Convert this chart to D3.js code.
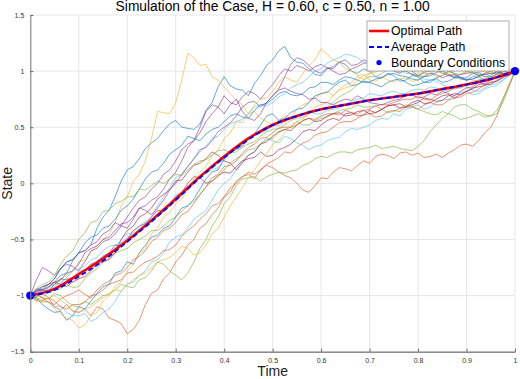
<!DOCTYPE html>
<html>
<head>
<meta charset="utf-8">
<script src="https://cdn.jsdelivr.net/npm/d3@7"></script>
<style>
  body { margin: 0; background: #fff; }
  svg { display: block; font-family: "Liberation Sans", Arial, sans-serif; }
</style>
</head>
<body>
<svg id="chart"></svg>
<script>
const width = 520;
const height = 379;

const titleText = "Simulation of the Case, H = 0.60, c = 0.50, n = 1.00";
const xTicks = [0, 0.1, 0.2, 0.3, 0.4, 0.5, 0.6, 0.7, 0.8, 0.9, 1];
const yTicks = [-1.5, -1, -0.5, 0, 0.5, 1, 1.5];
const lineColors = ["#0072BD", "#D95319", "#EDB120", "#7E2F8E", "#77AC30", "#4DBEEE", "#A2142F"];

// simulated paths (81 samples each, time step 1/80)
const simPaths = [
  [-1, -0.94, -0.95, -0.93, -0.88, -0.82, -0.80, -0.69, -0.62, -0.60, -0.55, -0.40, -0.30, -0.24, -0.12, 0.02, 0.12, 0.15, 0.22, 0.31, 0.36, 0.40, 0.47, 0.53, 0.56, 0.50, 0.49, 0.48, 0.53, 0.65, 0.72, 0.86, 0.95, 0.87, 0.84, 0.83, 0.78, 0.89, 0.96, 1.05, 1.10, 1.18, 1.22, 1.12, 1.08, 1.07, 1.02, 0.97, 0.96, 1.02, 1.04, 1.08, 1.06, 1.00, 0.98, 1.02, 1.00, 0.95, 0.94, 0.98, 0.96, 0.91, 0.92, 0.96, 0.95, 0.90, 0.90, 0.94, 0.96, 1.00, 0.98, 0.94, 0.94, 0.98, 0.99, 0.95, 0.96, 1.00, 0.98, 0.97, 1],
  [-1, -1.05, -1.04, -1.02, -1.10, -1.13, -1.08, -1.14, -1.15, -1.12, -1.18, -1.10, -1.12, -1.20, -1.22, -1.25, -1.34, -1.30, -1.22, -1.08, -0.98, -0.95, -0.85, -0.80, -0.70, -0.64, -0.55, -0.50, -0.40, -0.36, -0.28, -0.22, -0.12, -0.08, 0.02, 0.06, 0.08, 0.04, 0.12, 0.16, 0.14, 0.10, 0.07, 0.05, 0.00, -0.06, -0.08, -0.02, 0.05, 0.04, 0.10, 0.14, 0.13, 0.11, 0.16, 0.20, 0.18, 0.24, 0.26, 0.25, 0.22, 0.27, 0.28, 0.25, 0.27, 0.23, 0.24, 0.26, 0.23, 0.27, 0.30, 0.34, 0.35, 0.33, 0.38, 0.45, 0.50, 0.60, 0.75, 0.88, 1],
  [-1, -1.02, -0.98, -0.92, -0.90, -0.86, -0.82, -0.78, -0.70, -0.68, -0.62, -0.55, -0.50, -0.45, -0.35, -0.20, -0.12, 0.02, 0.08, 0.20, 0.40, 0.64, 0.63, 0.62, 0.72, 0.92, 1.16, 1.12, 1.05, 1.06, 0.95, 0.92, 0.86, 0.80, 0.74, 0.70, 0.62, 0.64, 0.58, 0.55, 0.52, 0.56, 0.60, 0.58, 0.66, 0.70, 0.72, 0.76, 0.80, 0.82, 0.78, 0.84, 0.88, 0.90, 0.95, 0.93, 0.98, 1.01, 1.02, 1.06, 1.05, 1.03, 1.00, 1.02, 0.98, 1.00, 1.03, 1.04, 1.00, 0.98, 0.96, 0.97, 0.99, 1.03, 1.02, 1.00, 0.98, 0.97, 1.01, 1.02, 1],
  [-1, -0.95, -0.92, -0.90, -0.85, -0.76, -0.72, -0.74, -0.78, -0.70, -0.60, -0.58, -0.52, -0.50, -0.45, -0.38, -0.40, -0.32, -0.22, -0.20, -0.15, -0.12, -0.05, 0.04, 0.10, 0.20, 0.32, 0.38, 0.50, 0.64, 0.70, 0.68, 0.62, 0.70, 0.75, 0.64, 0.58, 0.56, 0.62, 0.72, 0.78, 0.84, 0.95, 1.06, 1.12, 1.10, 1.05, 1.00, 0.98, 1.03, 1.02, 1.08, 1.10, 1.05, 1.06, 1.10, 1.08, 1.06, 1.04, 1.05, 1.00, 0.98, 1.02, 1.00, 0.96, 0.95, 0.98, 0.97, 0.94, 0.96, 0.97, 0.93, 0.92, 0.93, 0.95, 0.97, 0.98, 0.99, 0.97, 0.96, 1],
  [-1, -0.98, -1.02, -1.03, -0.98, -1.00, -1.05, -1.09, -1.10, -1.05, -1.08, -1.04, -1.00, -0.99, -0.95, -0.90, -0.92, -0.93, -0.86, -0.84, -0.78, -0.70, -0.72, -0.78, -0.82, -0.86, -0.80, -0.70, -0.58, -0.50, -0.38, -0.30, -0.18, -0.12, -0.02, 0.04, 0.05, 0.06, 0.02, 0.06, 0.08, 0.10, 0.09, 0.11, 0.12, 0.16, 0.18, 0.22, 0.24, 0.23, 0.26, 0.28, 0.28, 0.27, 0.30, 0.31, 0.32, 0.34, 0.31, 0.32, 0.33, 0.31, 0.30, 0.29, 0.33, 0.38, 0.46, 0.52, 0.58, 0.62, 0.68, 0.70, 0.70, 0.66, 0.64, 0.61, 0.60, 0.62, 0.72, 0.86, 1],
  [-1, -1.03, -1.05, -1.06, -1.10, -1.09, -1.15, -1.18, -1.18, -1.16, -1.23, -1.20, -1.15, -1.12, -1.05, -0.96, -0.90, -0.88, -0.82, -0.78, -0.70, -0.68, -0.62, -0.52, -0.48, -0.46, -0.40, -0.32, -0.28, -0.24, -0.15, -0.06, 0.00, 0.04, 0.12, 0.20, 0.25, 0.28, 0.35, 0.40, 0.38, 0.36, 0.42, 0.40, 0.36, 0.34, 0.30, 0.33, 0.34, 0.38, 0.40, 0.41, 0.46, 0.49, 0.48, 0.50, 0.52, 0.56, 0.58, 0.57, 0.62, 0.60, 0.66, 0.68, 0.70, 0.66, 0.68, 0.72, 0.74, 0.75, 0.78, 0.81, 0.82, 0.79, 0.80, 0.84, 0.86, 0.87, 0.92, 0.97, 1],
  [-1, -0.99, -0.95, -0.96, -0.90, -0.85, -0.86, -0.84, -0.80, -0.78, -0.72, -0.70, -0.65, -0.62, -0.55, -0.56, -0.50, -0.42, -0.38, -0.36, -0.30, -0.24, -0.25, -0.20, -0.12, -0.08, 0.00, 0.06, 0.05, 0.00, 0.02, 0.07, 0.10, 0.09, 0.15, 0.20, 0.22, 0.23, 0.28, 0.24, 0.25, 0.30, 0.32, 0.35, 0.40, 0.46, 0.48, 0.47, 0.52, 0.56, 0.58, 0.56, 0.62, 0.63, 0.60, 0.61, 0.65, 0.63, 0.66, 0.69, 0.70, 0.71, 0.68, 0.70, 0.72, 0.76, 0.75, 0.73, 0.74, 0.78, 0.80, 0.79, 0.82, 0.85, 0.86, 0.87, 0.90, 0.91, 0.94, 0.98, 1],
  [-1, -1.02, -1.08, -1.12, -1.15, -1.14, -1.22, -1.18, -1.10, -1.12, -1.05, -0.98, -0.92, -0.90, -0.80, -0.78, -0.70, -0.72, -0.62, -0.55, -0.48, -0.46, -0.40, -0.38, -0.30, -0.22, -0.20, -0.14, -0.05, 0.04, 0.10, 0.12, 0.22, 0.28, 0.30, 0.33, 0.40, 0.44, 0.52, 0.60, 0.62, 0.56, 0.58, 0.63, 0.66, 0.67, 0.72, 0.78, 0.80, 0.81, 0.86, 0.90, 0.92, 0.87, 0.88, 0.91, 0.90, 0.88, 0.86, 0.90, 0.92, 0.93, 0.90, 0.87, 0.88, 0.90, 0.92, 0.93, 0.90, 0.91, 0.94, 0.95, 0.92, 0.93, 0.95, 0.92, 0.93, 0.95, 0.97, 0.98, 1],
  [-1, -1.01, -0.98, -1.02, -1.05, -1.10, -1.12, -1.08, -1.08, -1.06, -1.00, -0.99, -0.95, -0.90, -0.88, -0.86, -0.80, -0.79, -0.74, -0.70, -0.68, -0.65, -0.60, -0.59, -0.55, -0.47, -0.42, -0.38, -0.32, -0.27, -0.20, -0.18, -0.12, -0.04, 0.00, 0.06, 0.10, 0.08, 0.12, 0.17, 0.20, 0.23, 0.28, 0.27, 0.32, 0.36, 0.38, 0.43, 0.45, 0.46, 0.50, 0.54, 0.55, 0.55, 0.58, 0.61, 0.62, 0.59, 0.60, 0.64, 0.65, 0.64, 0.68, 0.68, 0.66, 0.70, 0.72, 0.70, 0.70, 0.74, 0.76, 0.77, 0.80, 0.81, 0.84, 0.88, 0.90, 0.91, 0.95, 0.97, 1],
  [-1, -1.04, -1.06, -1.05, -1.12, -1.16, -1.20, -1.22, -1.29, -1.26, -1.18, -1.15, -1.05, -1.00, -0.92, -0.88, -0.78, -0.72, -0.62, -0.58, -0.45, -0.40, -0.30, -0.26, -0.18, -0.14, -0.05, 0.04, 0.10, 0.15, 0.25, 0.30, 0.40, 0.45, 0.55, 0.54, 0.62, 0.70, 0.75, 0.76, 0.82, 0.90, 0.95, 0.92, 0.90, 0.98, 1.05, 1.10, 1.20, 1.15, 1.10, 1.08, 1.02, 1.00, 0.96, 0.97, 0.92, 0.91, 0.95, 0.92, 0.90, 0.93, 0.94, 0.91, 0.92, 0.96, 0.98, 0.95, 0.96, 1.00, 1.02, 1.01, 1.00, 0.97, 0.98, 1.01, 1.03, 1.00, 1.01, 1.02, 1],
  [-1, -0.86, -0.75, -0.78, -0.82, -0.76, -0.70, -0.68, -0.62, -0.60, -0.55, -0.52, -0.45, -0.42, -0.35, -0.38, -0.30, -0.22, -0.15, -0.12, -0.05, 0.00, 0.08, 0.12, 0.20, 0.30, 0.35, 0.38, 0.45, 0.55, 0.62, 0.68, 0.78, 0.72, 0.70, 0.77, 0.82, 0.80, 0.75, 0.82, 0.88, 0.96, 1.02, 1.00, 1.05, 1.03, 1.00, 1.04, 1.06, 1.03, 1.00, 0.97, 0.98, 1.02, 1.04, 1.07, 1.08, 1.04, 1.02, 1.04, 1.05, 1.02, 1.00, 0.97, 0.96, 0.99, 1.00, 1.01, 0.98, 0.96, 0.95, 0.97, 0.98, 0.99, 0.96, 0.98, 1.00, 1.01, 0.98, 0.99, 1],
  [-1, -1.03, -1.02, -0.97, -0.95, -0.94, -0.90, -0.93, -0.92, -0.85, -0.80, -0.76, -0.70, -0.67, -0.62, -0.60, -0.58, -0.53, -0.50, -0.47, -0.42, -0.42, -0.38, -0.33, -0.30, -0.25, -0.20, -0.16, -0.10, -0.03, 0.02, 0.06, 0.12, 0.18, 0.22, 0.25, 0.30, 0.31, 0.35, 0.39, 0.40, 0.45, 0.48, 0.50, 0.55, 0.52, 0.52, 0.56, 0.58, 0.59, 0.62, 0.65, 0.66, 0.67, 0.70, 0.68, 0.68, 0.69, 0.66, 0.63, 0.64, 0.67, 0.70, 0.69, 0.66, 0.64, 0.62, 0.61, 0.64, 0.62, 0.60, 0.57, 0.58, 0.60, 0.62, 0.59, 0.60, 0.65, 0.75, 0.86, 1],
  [-1, -0.97, -0.96, -0.95, -0.92, -0.88, -0.85, -0.84, -0.78, -0.77, -0.74, -0.69, -0.65, -0.63, -0.58, -0.50, -0.45, -0.44, -0.38, -0.34, -0.30, -0.20, -0.12, -0.04, 0.05, 0.08, 0.15, 0.22, 0.28, 0.33, 0.40, 0.42, 0.48, 0.53, 0.55, 0.57, 0.62, 0.68, 0.70, 0.69, 0.72, 0.77, 0.80, 0.85, 0.88, 0.90, 0.95, 1.00, 1.02, 1.07, 1.10, 1.12, 1.15, 1.14, 1.12, 1.08, 1.06, 1.05, 1.02, 1.04, 1.05, 1.01, 0.98, 0.98, 0.96, 0.93, 0.92, 0.91, 0.88, 0.85, 0.84, 0.86, 0.86, 0.83, 0.82, 0.85, 0.88, 0.89, 0.92, 0.96, 1],
  [-1, -0.96, -0.94, -0.90, -0.88, -0.90, -0.92, -0.88, -0.85, -0.83, -0.78, -0.72, -0.70, -0.68, -0.62, -0.50, -0.42, -0.38, -0.30, -0.27, -0.22, -0.14, -0.10, -0.06, 0.02, 0.03, 0.10, 0.16, 0.18, 0.22, 0.28, 0.25, 0.20, 0.18, 0.12, 0.18, 0.25, 0.28, 0.35, 0.37, 0.42, 0.46, 0.48, 0.47, 0.52, 0.56, 0.58, 0.55, 0.56, 0.60, 0.62, 0.63, 0.60, 0.61, 0.64, 0.65, 0.62, 0.63, 0.66, 0.69, 0.70, 0.67, 0.68, 0.72, 0.74, 0.71, 0.72, 0.75, 0.78, 0.79, 0.76, 0.79, 0.82, 0.84, 0.88, 0.89, 0.92, 0.95, 0.96, 0.97, 1],
  [-1, -0.97, -0.92, -0.90, -0.85, -0.76, -0.70, -0.68, -0.62, -0.53, -0.48, -0.46, -0.40, -0.38, -0.32, -0.24, -0.20, -0.14, -0.05, 0.04, 0.10, 0.12, 0.18, 0.26, 0.30, 0.34, 0.42, 0.40, 0.38, 0.44, 0.48, 0.50, 0.55, 0.60, 0.62, 0.59, 0.58, 0.65, 0.70, 0.71, 0.75, 0.80, 0.82, 0.79, 0.78, 0.80, 0.85, 0.86, 0.90, 0.90, 0.88, 0.92, 0.95, 0.94, 0.92, 0.90, 0.90, 0.93, 0.94, 0.97, 0.98, 0.96, 0.95, 0.93, 0.92, 0.95, 0.96, 0.99, 1.00, 0.97, 0.94, 0.94, 0.92, 0.95, 0.96, 0.97, 0.98, 0.98, 1.00, 0.99, 1],
  [-1, -0.99, -1.02, -1.06, -1.08, -1.03, -1.00, -0.98, -0.95, -0.99, -1.02, -0.95, -0.90, -0.87, -0.82, -0.80, -0.75, -0.68, -0.65, -0.60, -0.52, -0.48, -0.42, -0.40, -0.35, -0.28, -0.25, -0.18, -0.10, -0.03, 0.05, 0.08, 0.15, 0.16, 0.20, 0.27, 0.32, 0.35, 0.40, 0.41, 0.45, 0.49, 0.50, 0.50, 0.52, 0.56, 0.58, 0.57, 0.60, 0.62, 0.62, 0.61, 0.65, 0.63, 0.62, 0.65, 0.66, 0.69, 0.70, 0.70, 0.72, 0.74, 0.75, 0.75, 0.78, 0.75, 0.74, 0.78, 0.80, 0.82, 0.85, 0.85, 0.88, 0.91, 0.92, 0.93, 0.95, 0.97, 0.98, 0.98, 1],
  [-1, -1.03, -1.05, -1.02, -1.00, -1.04, -1.08, -1.13, -1.15, -1.12, -1.10, -1.06, -1.02, -0.98, -0.95, -0.96, -0.90, -0.86, -0.82, -0.80, -0.75, -0.70, -0.68, -0.66, -0.62, -0.56, -0.58, -0.64, -0.62, -0.55, -0.45, -0.40, -0.30, -0.20, -0.12, -0.04, 0.05, 0.12, 0.20, 0.26, 0.35, 0.38, 0.45, 0.52, 0.55, 0.58, 0.62, 0.68, 0.70, 0.72, 0.78, 0.83, 0.85, 0.87, 0.92, 0.96, 0.98, 0.99, 1.02, 1.05, 1.05, 1.02, 1.00, 1.03, 1.04, 1.01, 1.02, 1.00, 0.98, 0.99, 1.00, 1.04, 1.05, 1.03, 1.02, 0.99, 0.98, 1.00, 1.00, 1.01, 1],
  [-1, -0.96, -0.95, -0.92, -0.88, -0.86, -0.80, -0.78, -0.72, -0.62, -0.58, -0.56, -0.50, -0.48, -0.42, -0.36, -0.35, -0.30, -0.22, -0.24, -0.28, -0.22, -0.15, -0.06, 0.00, 0.08, 0.15, 0.22, 0.30, 0.32, 0.38, 0.46, 0.50, 0.54, 0.60, 0.68, 0.72, 0.73, 0.68, 0.72, 0.78, 0.83, 0.85, 0.82, 0.80, 0.79, 0.75, 0.76, 0.72, 0.72, 0.70, 0.73, 0.75, 0.74, 0.78, 0.75, 0.72, 0.71, 0.70, 0.72, 0.74, 0.75, 0.78, 0.79, 0.76, 0.77, 0.80, 0.79, 0.82, 0.80, 0.78, 0.82, 0.85, 0.86, 0.90, 0.88, 0.88, 0.92, 0.95, 0.96, 1],
  [-1, -0.94, -0.90, -0.88, -0.82, -0.72, -0.65, -0.60, -0.50, -0.44, -0.35, -0.33, -0.25, -0.24, -0.18, -0.16, -0.12, -0.12, -0.05, -0.06, -0.02, 0.02, 0.00, 0.04, 0.08, 0.07, 0.12, 0.17, 0.20, 0.21, 0.25, 0.29, 0.30, 0.27, 0.28, 0.32, 0.35, 0.37, 0.42, 0.46, 0.48, 0.49, 0.52, 0.56, 0.58, 0.59, 0.62, 0.65, 0.66, 0.68, 0.72, 0.77, 0.80, 0.83, 0.88, 0.92, 0.95, 0.95, 0.98, 1.01, 1.02, 0.99, 1.00, 0.97, 0.96, 0.98, 0.98, 1.01, 1.02, 1.00, 0.98, 0.97, 1.00, 0.99, 0.97, 0.95, 0.95, 0.97, 0.98, 0.98, 1],
  [-1, -1.01, -0.98, -0.93, -0.90, -0.89, -0.84, -0.78, -0.76, -0.74, -0.68, -0.66, -0.60, -0.56, -0.55, -0.53, -0.48, -0.46, -0.40, -0.35, -0.32, -0.28, -0.22, -0.18, -0.10, -0.09, -0.05, 0.01, 0.05, 0.10, 0.12, 0.14, 0.20, 0.27, 0.32, 0.34, 0.40, 0.44, 0.45, 0.47, 0.52, 0.51, 0.55, 0.59, 0.60, 0.61, 0.65, 0.62, 0.62, 0.65, 0.66, 0.67, 0.70, 0.73, 0.75, 0.76, 0.80, 0.79, 0.78, 0.81, 0.82, 0.80, 0.80, 0.83, 0.84, 0.83, 0.86, 0.85, 0.82, 0.83, 0.85, 0.87, 0.88, 0.89, 0.92, 0.93, 0.95, 0.95, 0.97, 0.99, 1]
];
const simTimes = d3.range(81).map(i => i / 80);

const meanTimes = [0, 0.05, 0.1, 0.15, 0.2, 0.25, 0.3, 0.35, 0.4, 0.45, 0.5,
  0.55, 0.6, 0.65, 0.7, 0.75, 0.8, 0.85, 0.9, 0.95, 1];
const optimalPath = [-1, -0.94, -0.81, -0.67, -0.51, -0.33, -0.14, 0.06, 0.24, 0.40, 0.52,
  0.60, 0.66, 0.70, 0.74, 0.77, 0.80, 0.84, 0.88, 0.93, 1];
const averagePath = [-1, -0.95, -0.83, -0.69, -0.52, -0.34, -0.15, 0.05, 0.23, 0.39, 0.52,
  0.60, 0.66, 0.70, 0.74, 0.77, 0.80, 0.84, 0.88, 0.93, 1];
const boundaryTimes = [0, 1];
const boundaryValues = [-1, 1];

const legendItems = ["Optimal Path", "Average Path", "Boundary Conditions"];

const margin = { left: 30.3, right: 5, top: 15, bottom: 27.3 };

const x = d3.scaleLinear().domain([0, 1]).range([margin.left, width - margin.right]);
const y = d3.scaleLinear().domain([-1.5, 1.5]).range([height - margin.bottom, margin.top]);

const svg = d3.select("#chart")
  .attr("width", width)
  .attr("height", height);

// grid
svg.append("g")
  .selectAll("line")
  .data(xTicks)
  .join("line")
  .attr("x1", d => x(d)).attr("x2", d => x(d))
  .attr("y1", y(-1.5)).attr("y2", y(1.5))
  .attr("stroke", "#e6e6e6").attr("stroke-width", 1);

svg.append("g")
  .selectAll("line")
  .data(yTicks)
  .join("line")
  .attr("x1", x(0)).attr("x2", x(1))
  .attr("y1", d => y(d)).attr("y2", d => y(d))
  .attr("stroke", "#e6e6e6").attr("stroke-width", 1);

// simulated paths
const line = d3.line()
  .x((d, i) => x(simTimes[i]))
  .y(d => y(d));

svg.append("g")
  .selectAll("path")
  .data(simPaths)
  .join("path")
  .attr("d", line)
  .attr("fill", "none")
  .attr("stroke", (d, i) => lineColors[i % lineColors.length])
  .attr("stroke-opacity", 0.72)
  .attr("stroke-width", 0.85)
  .attr("stroke-linejoin", "round");

const meanLine = d3.line()
  .x((d, i) => x(meanTimes[i]))
  .y(d => y(d))
  .curve(d3.curveMonotoneX);

svg.append("path")
  .attr("d", meanLine(optimalPath))
  .attr("fill", "none")
  .attr("stroke", "#ff0000")
  .attr("stroke-width", 2.6);

svg.append("path")
  .attr("d", meanLine(averagePath))
  .attr("fill", "none")
  .attr("stroke", "#0000ff")
  .attr("stroke-width", 1.8)
  .attr("stroke-dasharray", "5,3");

svg.append("g")
  .selectAll("circle")
  .data(boundaryValues)
  .join("circle")
  .attr("cx", (d, i) => x(boundaryTimes[i]))
  .attr("cy", d => y(d))
  .attr("r", 4.2)
  .attr("fill", "#0000ff");

// axes
const xAxis = svg.append("g")
  .attr("transform", `translate(0,${y(-1.5)})`)
  .call(d3.axisBottom(x).tickValues(xTicks).tickSizeInner(-3).tickSizeOuter(0).tickPadding(6)
    .tickFormat(d => d3.format("~g")(d)));
xAxis.select(".domain").attr("stroke", "#8c8c8c").attr("stroke-width", 1.6);
xAxis.selectAll(".tick line").attr("stroke", "#666");
xAxis.selectAll("text").attr("font-size", 7).attr("fill", "#333").attr("font-family", "Liberation Sans, Arial");

const yAxis = svg.append("g")
  .attr("transform", `translate(${x(0)},0)`)
  .call(d3.axisLeft(y).tickValues(yTicks).tickSizeInner(-3).tickSizeOuter(0).tickPadding(6)
    .tickFormat(d => d3.format("~g")(d)));
yAxis.select(".domain").attr("stroke", "#8c8c8c").attr("stroke-width", 1.2);
yAxis.selectAll(".tick line").attr("stroke", "#666");
yAxis.selectAll("text").attr("font-size", 7).attr("fill", "#333").attr("font-family", "Liberation Sans, Arial");

// labels
svg.append("text")
  .attr("x", (x(0) + x(1)) / 2)
  .attr("y", 10.5)
  .attr("text-anchor", "middle")
  .attr("font-size", 13.8)
  .attr("fill", "#000")
  .text(titleText);

svg.append("text")
  .attr("x", (x(0) + x(1)) / 2)
  .attr("y", 376)
  .attr("text-anchor", "middle")
  .attr("font-size", 14)
  .attr("fill", "#222")
  .text("Time");

svg.append("text")
  .attr("transform", `translate(12,${y(0)}) rotate(-90)`)
  .attr("text-anchor", "middle")
  .attr("font-size", 14)
  .attr("fill", "#222")
  .text("State");

// legend
const legend = svg.append("g").attr("transform", "translate(367,21)");
legend.append("rect")
  .attr("width", 142).attr("height", 50)
  .attr("fill", "#fff")
  .attr("stroke", "#999").attr("stroke-width", 0.8);

const rowY = [10, 26, 41.5];
legend.selectAll("text")
  .data(legendItems)
  .join("text")
  .attr("x", 24)
  .attr("y", (d, i) => rowY[i] + 4.2)
  .attr("font-size", 12.3)
  .attr("fill", "#000")
  .text(d => d);

legend.append("line")
  .attr("x1", 2).attr("x2", 22).attr("y1", rowY[0]).attr("y2", rowY[0])
  .attr("stroke", "#ff0000").attr("stroke-width", 2.6);
legend.append("line")
  .attr("x1", 2).attr("x2", 22).attr("y1", rowY[1]).attr("y2", rowY[1])
  .attr("stroke", "#0000ff").attr("stroke-width", 1.8).attr("stroke-dasharray", "5,3");
legend.append("circle")
  .attr("cx", 12).attr("cy", rowY[2]).attr("r", 2.6)
  .attr("fill", "#0000ff");
</script>
</body>
</html>
